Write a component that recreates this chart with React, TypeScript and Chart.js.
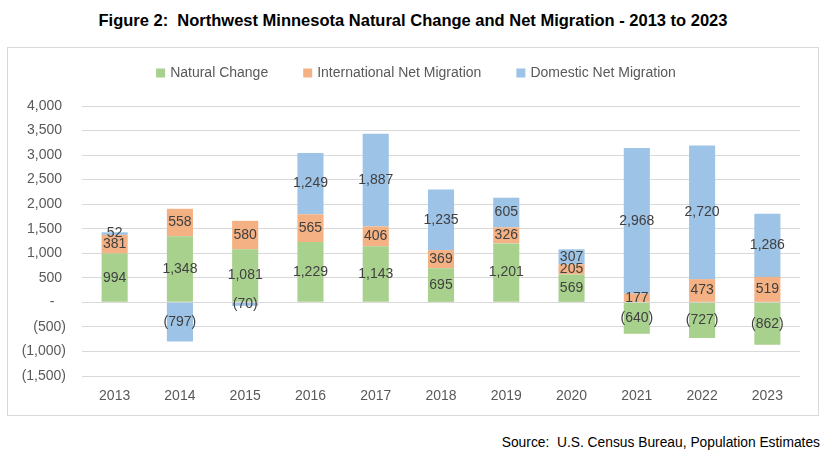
import React, { useEffect, useRef } from "react";
import { Chart, registerables } from "chart.js";

Chart.register(...registerables);

const years = ["2013", "2014", "2015", "2016", "2017", "2018", "2019", "2020", "2021", "2022", "2023"];
const naturalChange = [994, 1348, 1081, 1229, 1143, 695, 1201, 569, -640, -727, -862];
const internationalMigration = [381, 558, 580, 565, 406, 369, 326, 205, 177, 473, 519];
const domesticMigration = [52, -797, -70, 1249, 1887, 1235, 605, 307, 2968, 2720, 1286];
const seriesNames = ["Natural Change", "International Net Migration", "Domestic Net Migration"];
const seriesColors = ["#a9d18e", "#f4b183", "#9dc3e6"];
const yMin = -1500;
const yMax = 4000;
const yStep = 500;

const FONT = '"Liberation Sans", Arial, sans-serif';

function fmtNum(v: number): string {
  const s = Math.abs(v).toLocaleString("en-US");
  return v < 0 ? `(${s})` : s;
}

function fmtTick(v: number): string {
  if (v === 0) return "-   ";
  if (v < 0) return `(${Math.abs(v).toLocaleString("en-US")})`;
  return `${v.toLocaleString("en-US")} `;
}

const dataLabelsPlugin = {
  id: "stackLabels",
  afterDatasetsDraw(chart: any) {
    const ctx = chart.ctx;
    ctx.save();
    ctx.font = `14px ${FONT}`;
    ctx.fillStyle = "#404040";
    ctx.textAlign = "center";
    ctx.textBaseline = "middle";
    chart.data.datasets.forEach((ds: any, i: number) => {
      const meta = chart.getDatasetMeta(i);
      meta.data.forEach((el: any, j: number) => {
        const v = ds.data[j] as number;
        const y = (el.y + el.base) / 2;
        ctx.fillText(fmtNum(v), el.x, y);
      });
    });
    ctx.restore();
  },
};

const legendPlugin = {
  id: "customLegend",
  afterDraw(chart: any) {
    const ctx = chart.ctx;
    ctx.save();
    ctx.font = `14px ${FONT}`;
    ctx.textBaseline = "middle";
    ctx.textAlign = "left";
    const box = 9;
    const gap = 5;
    const itemGap = 35;
    const items = chart.data.datasets.map((ds: any) => ({
      label: ds.label as string,
      color: ds.backgroundColor as string,
      w: ctx.measureText(ds.label).width,
    }));
    const total =
      items.reduce((a: number, it: any) => a + box + gap + it.w, 0) + itemGap * (items.length - 1);
    let x = chart.width / 2 + 3 - total / 2;
    const cy = 25;
    items.forEach((it: any) => {
      ctx.fillStyle = it.color;
      ctx.fillRect(x, cy - box / 2, box, box);
      ctx.fillStyle = "#595959";
      ctx.fillText(it.label, x + box + gap, cy);
      x += box + gap + it.w + itemGap;
    });
    ctx.restore();
  },
};

export default function App() {
  const canvasRef = useRef<HTMLCanvasElement | null>(null);

  useEffect(() => {
    if (!canvasRef.current) return;
    const chart = new Chart(canvasRef.current, {
      type: "bar",
      data: {
        labels: years,
        datasets: [
          { label: seriesNames[0], data: naturalChange, backgroundColor: seriesColors[0] },
          { label: seriesNames[1], data: internationalMigration, backgroundColor: seriesColors[1] },
          { label: seriesNames[2], data: domesticMigration, backgroundColor: seriesColors[2] },
        ],
      },
      options: {
        responsive: false,
        animation: false,
        devicePixelRatio: 1,
        layout: { padding: { left: 0, right: 18, top: 58, bottom: 0 } },
        datasets: {
          bar: { categoryPercentage: 1, barPercentage: 0.4, borderWidth: 0 },
        },
        plugins: {
          legend: { display: false },
          tooltip: { enabled: false },
        },
        scales: {
          x: {
            stacked: true,
            grid: { display: false, drawTicks: false },
            border: { display: false },
            ticks: { color: "#595959", font: { family: FONT, size: 14 }, padding: 12 },
            afterFit: (scale: any) => {
              scale.height = 39;
            },
          },
          y: {
            stacked: true,
            min: yMin,
            max: yMax,
            grid: { color: "#d9d9d9", drawTicks: false, lineWidth: 1 },
            border: { display: false },
            ticks: {
              stepSize: yStep,
              color: "#595959",
              font: { family: FONT, size: 14 },
              padding: 16,
              callback: (v: any) => fmtTick(Number(v)),
            },
            afterFit: (scale: any) => {
              scale.width = 74;
            },
          },
        },
      },
      plugins: [dataLabelsPlugin, legendPlugin],
    });
    return () => chart.destroy();
  }, []);

  return (
    <div style={{ position: "absolute", left: 0, top: 0, width: 831, height: 459, background: "#fff", fontFamily: FONT }}>
      <div
        style={{
          position: "absolute",
          left: 0,
          top: 10,
          width: 826,
          textAlign: "center",
          fontWeight: "bold",
          fontSize: 16.5,
          lineHeight: "21px",
          color: "#000",
        }}
      >
        Figure 2:&nbsp; Northwest Minnesota Natural Change and Net Migration - 2013 to 2023
      </div>
      <div
        style={{
          position: "absolute",
          left: 7,
          top: 47,
          width: 812,
          height: 369,
          boxSizing: "border-box",
          border: "1px solid #d9d9d9",
        }}
      >
        <canvas ref={canvasRef} width={810} height={367} style={{ display: "block", width: 810, height: 367 }} />
      </div>
      <div
        style={{
          position: "absolute",
          right: 11,
          top: 433,
          fontSize: 13.8,
          lineHeight: "20px",
          color: "#000",
          whiteSpace: "pre",
        }}
      >
        Source:  U.S. Census Bureau, Population Estimates
      </div>
    </div>
  );
}
